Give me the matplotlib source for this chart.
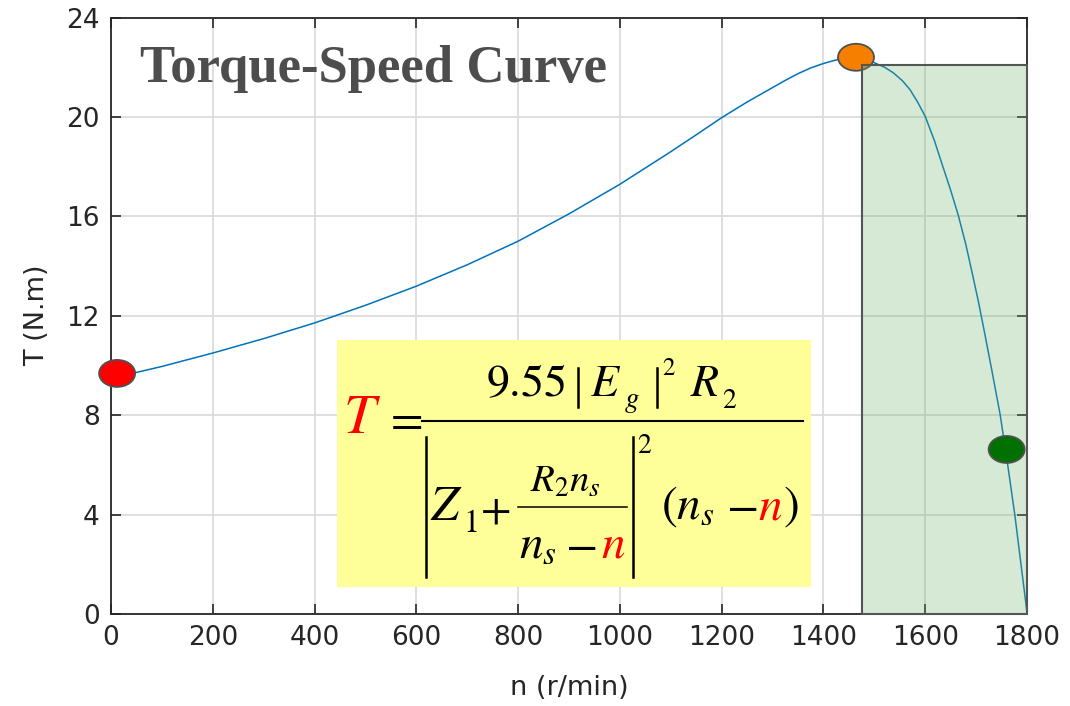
import matplotlib
matplotlib.use("Agg")
import matplotlib.pyplot as plt
from matplotlib.patches import Ellipse, Rectangle
from matplotlib.transforms import IdentityTransform
from matplotlib.lines import Line2D

# ---- data ----
speed = [0, 50, 100, 200, 300, 400, 500, 600, 700, 800, 900, 1000, 1100,
         1150, 1200, 1250, 1300, 1325, 1350, 1375, 1400, 1430, 1450, 1465,
         1485, 1501, 1520, 1537, 1555, 1570, 1585, 1600, 1618, 1635, 1650,
         1665, 1680, 1694, 1704, 1717, 1730, 1747, 1760, 1776, 1790, 1797,
         1800]
torque = [9.50, 9.72, 9.96, 10.50, 11.08, 11.71, 12.42, 13.19, 14.05, 15.00,
          16.10, 17.29, 18.60, 19.28, 19.97, 20.60, 21.18, 21.47, 21.74, 21.97,
          22.15, 22.32, 22.39, 22.42, 22.33, 22.17, 22.00, 21.78, 21.46, 21.10,
          20.60, 20.02, 19.05, 17.98, 17.05, 16.04, 14.85, 13.56, 12.62, 11.28,
          9.90, 8.05, 6.30, 4.00, 1.70, 0.56, 0.05]

start_pt = (12, 9.68)
max_pt = (1464, 22.40)
rated_pt = (1760, 6.62)
stable_region = (1475, 1800, 22.1)      # n_from, n_to, T_top
formula_box = (444, 1376, 1.09, 11.01)  # n_from, n_to, T_from, T_to

x_ticks = [0, 200, 400, 600, 800, 1000, 1200, 1400, 1600, 1800]
y_ticks = [0, 4, 8, 12, 16, 20, 24]

W, H = 1070, 706
plt.rcParams['mathtext.fontset'] = 'stix'
fig = plt.figure(figsize=(W / 100, H / 100), dpi=100)
ax = fig.add_axes([111 / W, 1 - 614 / H, 916 / W, (614 - 17.5) / H])

ax.set_xlim(0, 1800)
ax.set_ylim(0, 24)
ax.set_xticks(x_ticks)
ax.set_yticks(y_ticks)
ax.grid(True, color='#dcdcdc', linewidth=1.3, zorder=0.5)
ax.set_axisbelow(True)

for s in ax.spines.values():
    s.set_color('#262626')
    s.set_linewidth(1.3)
ax.tick_params(direction='in', length=7, width=1.2, top=True, right=True,
               colors='#262626', labelsize=19, pad=8)
ax.set_xlabel('n (r/min)', fontsize=19.5, color='#262626', labelpad=17)
ax.set_ylabel('T (N.m)', fontsize=19.5, color='#262626', labelpad=12)

ax.plot(speed, torque, color='#0072BD', linewidth=1.1, zorder=2)

# formula background
ax.add_patch(Rectangle((formula_box[0], formula_box[2]),
                       formula_box[1] - formula_box[0],
                       formula_box[3] - formula_box[2],
                       facecolor='#ffff99', edgecolor='none', zorder=3))

ew = 36 / 916 * 1800   # ellipse size (px -> data)
eh = 27 / 597 * 24
ax.add_patch(Ellipse(max_pt, ew, eh, facecolor='#f77f00', edgecolor='#505050',
                     linewidth=1.3, zorder=4))
ax.add_patch(Rectangle((stable_region[0], 0), stable_region[1] - stable_region[0],
                       stable_region[2], facecolor=(0.42, 0.70, 0.42, 0.28),
                       edgecolor='#555555', linewidth=1.5, zorder=5, clip_on=False))
ax.add_patch(Ellipse(start_pt, ew, eh, facecolor='#ff0000', edgecolor='#505050',
                     linewidth=1.3, zorder=6, clip_on=False))
ax.add_patch(Ellipse(rated_pt, ew, eh, facecolor='#007000', edgecolor='#505050',
                     linewidth=1.3, zorder=6))

# title
fig.text(140, H - 82, 'Torque-Speed Curve', transform=IdentityTransform(),
         fontfamily='Liberation Serif', fontweight='bold', fontsize=38,
         color='#4d4d4d', ha='left', va='baseline', zorder=10)

# formula, placed piece by piece (pixel coordinates from top-left)
def put(x, y, s, size, color='black'):
    fig.text(x, H - y, s, transform=IdentityTransform(), fontsize=size,
             color=color, ha='left', va='baseline', zorder=10)

def bar(x0, x1, y0, y1, lw):
    fig.add_artist(Line2D([x0, x1], [H - y0, H - y1], color='black',
                          linewidth=lw, transform=IdentityTransform(), zorder=10))

# T =
put(343, 433, r'$T$', 41, 'red')
put(384, 433, r'$=$', 34)
bar(422, 803, 420.7, 420.7, 1.5)
# numerator 9.55 |E_g|^2 R_2
put(486, 396, r'$9.55$', 33)
bar(578, 578, 368, 407, 1.8)
put(590, 396, r'$E$', 33)
put(624, 407, r'$g$', 21)
bar(657, 657, 368, 407, 1.8)
put(662, 375, r'$2$', 18)
put(690, 396, r'$R$', 33)
put(722, 408, r'$2$', 20)
# denominator |Z_1 + R_2 n_s/(n_s - n)|^2 (n_s - n)
bar(426, 426, 437, 577, 1.8)
bar(633, 633, 437, 577, 1.8)
put(430, 520, r'$Z$', 36)
put(463, 532, r'$1$', 23)
put(480, 522, r'$+$', 32)
put(530, 492, r'$R_2n_s$', 28)
bar(518, 627, 507, 507, 1.1)
put(519, 558, r'$n_s$', 34)
put(565, 558, r'$-$', 34)
put(601, 558, r'$n$', 34, 'red')
put(637, 453, r'$2$', 20)
put(661, 519, r'$(n_s$', 34)
put(726, 519, r'$-$', 34)
put(758, 519, r'$n$', 34, 'red')
put(783, 519, r'$)$', 34)

fig.savefig('out.png', dpi=100)
